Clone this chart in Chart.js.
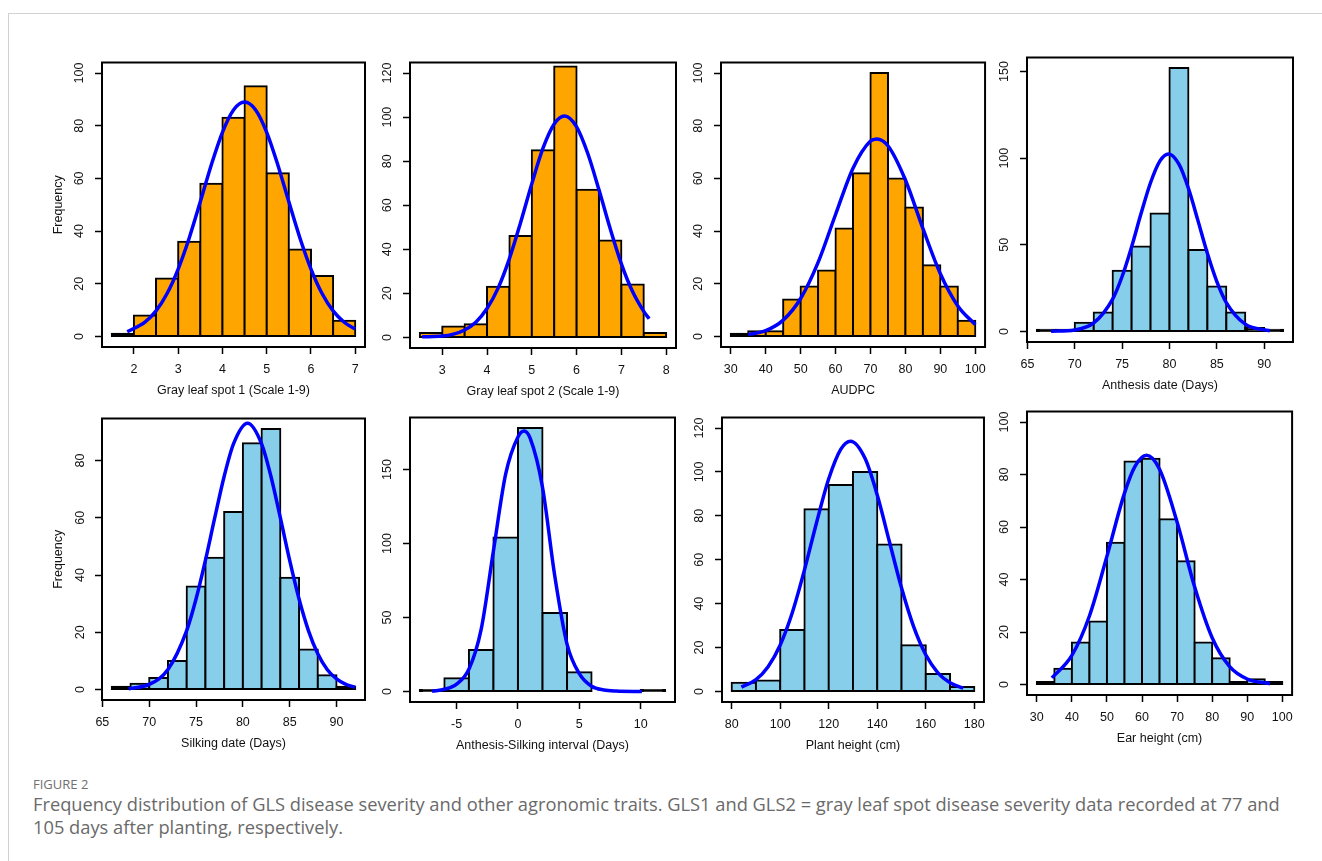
<!DOCTYPE html>
<html>
<head>
<meta charset="utf-8">
<script src="https://cdn.jsdelivr.net/npm/chart.js@4.4.1/dist/chart.umd.min.js"></script>
<style>
  html, body { margin: 0; padding: 0; background: #fff; overflow: hidden; }
  body { width: 1322px; height: 861px; position: relative; }
  .card { position: absolute; left: 8px; top: 13px; width: 1400px; height: 900px; border: 1px solid #d2d2d2; }
  canvas { position: absolute; }
  .fig-label { position: absolute; left: 33px; top: 775px; font-family: "Open Sans", sans-serif; font-size: 13px; color: #707070; }
  .caption { position: absolute; left: 33px; top: 792px; font-family: "Open Sans", sans-serif; font-size: 18.3px; line-height: 23px; color: #6a6a6a; white-space: nowrap; }
</style>
</head>
<body>
<div class="card"></div>
<div class="fig-label">FIGURE 2</div>
<div class="caption">Frequency distribution of GLS disease severity and other agronomic traits. GLS1 and GLS2 = gray leaf spot disease severity data recorded at 77 and<br>105 days after planting, respectively.</div>
<script>
// ---- data ----
// Gray leaf spot 1
const gls1Mids = [1.75, 2.25, 2.75, 3.25, 3.75, 4.25, 4.75, 5.25, 5.75, 6.25, 6.75];
const gls1Counts = [1, 8, 22, 36, 58, 83, 95, 62, 33, 23, 6];
const gls1CurveX = [1.85, 2.25, 2.5, 2.75, 3, 3.25, 3.5, 3.75, 4, 4.25, 4.5, 4.75, 5, 5.25, 5.5, 5.75, 6, 6.25, 6.5, 6.75, 7];
const gls1CurveY = [1.8, 5.4, 9.7, 16.3, 25.6, 37.4, 51.1, 65.2, 77.5, 86, 89, 86, 77.5, 65.2, 51.1, 37.4, 25.6, 16.3, 9.7, 5.4, 2.8];
const gls1XTicks = [2, 3, 4, 5, 6, 7];
const gls1YTicks = [0, 20, 40, 60, 80, 100];

// Gray leaf spot 2
const gls2Mids = [2.75, 3.25, 3.75, 4.25, 4.75, 5.25, 5.75, 6.25, 6.75, 7.25, 7.75];
const gls2Counts = [2, 5, 6, 23, 46, 85, 123, 67, 44, 24, 2];
const gls2CurveX = [2.55, 3, 3.25, 3.5, 3.75, 4, 4.25, 4.5, 4.75, 5, 5.25, 5.5, 5.73, 6, 6.25, 6.5, 6.75, 7, 7.25, 7.5, 7.62];
const gls2CurveY = [0.3, 0.6, 1.5, 3.4, 6.9, 13.1, 22.5, 35.8, 52.2, 69.8, 85.9, 96.9, 100.5, 95.6, 83.5, 67, 49.4, 33.4, 20.8, 11.8, 8.5];
const gls2XTicks = [3, 4, 5, 6, 7, 8];
const gls2YTicks = [0, 20, 40, 60, 80, 100, 120];

// AUDPC
const audpcMids = [32.5, 37.5, 42.5, 47.5, 52.5, 57.5, 62.5, 67.5, 72.5, 77.5, 82.5, 87.5, 92.5, 97.5];
const audpcCounts = [1, 2, 2, 14, 19, 25, 41, 62, 100, 60, 49, 27, 19, 6];
const audpcCurveX = [35, 40, 45, 50, 55, 60, 65, 70, 71.8, 75, 80, 85, 90, 95, 100];
const audpcCurveY = [0.7, 2.2, 6.2, 14.4, 28.1, 46.3, 63.9, 74.2, 75, 72.4, 59.4, 41, 23.8, 11.6, 4.5];
const audpcXTicks = [30, 40, 50, 60, 70, 80, 90, 100];
const audpcYTicks = [0, 20, 40, 60, 80, 100];

// Anthesis date
const anthMids = [67, 69, 71, 73, 75, 77, 79, 81, 83, 85, 87, 89, 91];
const anthCounts = [1, 1, 5, 11, 35, 49, 68, 152, 47, 26, 11, 2, 1];
const anthCurveX = [67.5, 70, 72, 74, 75, 76, 77, 78, 79, 79.9, 81, 82, 83, 84, 85, 86, 88, 90.6];
const anthCurveY = [0.1, 0.9, 4.9, 18.7, 31.7, 48.8, 68, 85.8, 98.4, 102.4, 96.5, 82.6, 64.1, 45.1, 28.8, 16.7, 4.2, 0.4];
const anthXTicks = [65, 70, 75, 80, 85, 90];
const anthYTicks = [0, 50, 100, 150];

// Silking date
const silkMids = [67, 69, 71, 73, 75, 77, 79, 81, 83, 85, 87, 89, 91];
const silkCounts = [1, 2, 4, 10, 36, 46, 62, 86, 91, 39, 14, 5, 1];
const silkCurveX = [67.8, 70, 72, 74, 75, 76, 77, 78, 79, 80.5, 82, 83, 84, 85, 86, 87, 88, 89, 90, 91, 92];
const silkCurveY = [0.3, 1.8, 7, 20.6, 31.6, 45.1, 60, 74.4, 85.8, 93, 85.8, 74.4, 60, 45.1, 31.6, 20.6, 12.5, 7, 3.7, 1.8, 0.8];
const silkXTicks = [65, 70, 75, 80, 85, 90];
const silkYTicks = [0, 20, 40, 60, 80];

// Anthesis-silking interval
const asiMids = [-7, -5, -3, -1, 1, 3, 5, 7, 9, 11];
const asiCounts = [1, 9, 28, 104, 178, 53, 13, 0, 0, 1];
const asiCurveX = [-7, -6, -5, -4, -3, -2, -1, 0, 0.5, 1, 2, 3, 4, 5, 6, 7, 8, 10.1];
const asiCurveY = [0.2, 1.5, 5, 15, 42, 95, 147, 172, 176, 171, 138, 78, 32, 12, 3.5, 1, 0.3, 0];
const asiXTicks = [-5, 0, 5, 10];
const asiYTicks = [0, 50, 100, 150];

// Plant height
const phMids = [85, 95, 105, 115, 125, 135, 145, 155, 165, 175];
const phCounts = [4, 5, 28, 83, 94, 100, 67, 21, 8, 2];
const phCurveX = [84, 90, 95, 100, 105, 110, 115, 120, 125, 129, 135, 140, 145, 150, 155, 160, 165, 170, 175.5];
const phCurveY = [2, 5.4, 11.3, 21.2, 36, 55.4, 77, 96.9, 110.4, 114, 106.1, 89.5, 68.3, 47.2, 29.5, 16.7, 8.5, 4, 1.5];
const phXTicks = [80, 100, 120, 140, 160, 180];
const phYTicks = [0, 20, 40, 60, 80, 100, 120];

// Ear height
const ehMids = [32.5, 37.5, 42.5, 47.5, 52.5, 57.5, 62.5, 67.5, 72.5, 77.5, 82.5, 87.5, 92.5, 97.5];
const ehCounts = [1, 6, 16, 24, 54, 85, 86, 63, 47, 16, 10, 1, 2, 1];
const ehCurveX = [34.3, 40, 45, 50, 55, 58, 61.3, 65, 70, 75, 80, 85, 90, 96.5];
const ehCurveY = [2.5, 11.1, 26.1, 48.9, 72.9, 83.1, 87.3, 82, 61.9, 37.2, 17.8, 6.8, 2.1, 0.3];
const ehXTicks = [30, 40, 50, 60, 70, 80, 90, 100];
const ehYTicks = [0, 20, 40, 60, 80, 100];

// ---- layout ----
const ORANGE = '#FFA500';
const SKY = '#87CEEB';
const Y_AXIS_W = 55;   // room left of the plot box
const X_AXIS_H = 56;   // room below the plot box
const PAD_T = 5, PAD_R = 8;

// box = [left, top, width, height] of the framed plot region on the page
const panels = [
  { box: [102, 55, 263, 292], xr: [1.28, 7.22], yr: [-4, 104], bin: 0.5, fill: ORANGE,
    mids: gls1Mids, counts: gls1Counts, cx: gls1CurveX, cy: gls1CurveY, xt: gls1XTicks, yt: gls1YTicks,
    xTitle: 'Gray leaf spot 1 (Scale 1-9)', yTitle: 'Frequency', yPad: 5 },
  { box: [410, 55, 266, 293], xr: [2.28, 8.22], yr: [-4.8, 124.8], bin: 0.5, fill: ORANGE,
    mids: gls2Mids, counts: gls2Counts, cx: gls2CurveX, cy: gls2CurveY, xt: gls2XTicks, yt: gls2YTicks,
    xTitle: 'Gray leaf spot 2 (Scale 1-9)', yTitle: '', yPad: 5 },
  { box: [721, 55, 265, 292], xr: [27.2, 102.8], yr: [-4, 104], bin: 5, fill: ORANGE,
    mids: audpcMids, counts: audpcCounts, cx: audpcCurveX, cy: audpcCurveY, xt: audpcXTicks, yt: audpcYTicks,
    xTitle: 'AUDPC', yTitle: '', yPad: 5 },
  { box: [1027, 50, 266, 292], xr: [64.96, 93.04], yr: [-6.08, 158.08], bin: 2, fill: SKY,
    mids: anthMids, counts: anthCounts, cx: anthCurveX, cy: anthCurveY, xt: anthXTicks, yt: anthYTicks,
    xTitle: 'Anthesis date (Days)', yTitle: '', yPad: 5 },
  { box: [102, 408, 263, 292], xr: [64.96, 93.04], yr: [-3.64, 94.64], bin: 2, fill: SKY,
    mids: silkMids, counts: silkCounts, cx: silkCurveX, cy: silkCurveY, xt: silkXTicks, yt: silkYTicks,
    xTitle: 'Silking date (Days)', yTitle: 'Frequency', yPad: 8 },
  { box: [410, 410, 265, 292], xr: [-8.8, 12.8], yr: [-7.12, 185.12], bin: 2, fill: SKY,
    mids: asiMids, counts: asiCounts, cx: asiCurveX, cy: asiCurveY, xt: asiXTicks, yt: asiYTicks,
    xTitle: 'Anthesis-Silking interval (Days)', yTitle: '', yPad: 5 },
  { box: [722, 410, 263, 292], xr: [76, 184], yr: [-4.8, 124.8], bin: 10, fill: SKY,
    mids: phMids, counts: phCounts, cx: phCurveX, cy: phCurveY, xt: phXTicks, yt: phYTicks,
    xTitle: 'Plant height (cm)', yTitle: '', yPad: 5 },
  { box: [1027, 404, 266, 291], xr: [27.2, 102.8], yr: [-4, 104], bin: 5, fill: SKY,
    mids: ehMids, counts: ehCounts, cx: ehCurveX, cy: ehCurveY, xt: ehXTicks, yt: ehYTicks,
    xTitle: 'Ear height (cm)', yTitle: '', yPad: 5 }
];

Chart.defaults.font.family = '"Liberation Sans", Arial, sans-serif';
Chart.defaults.font.size = 12.5;
Chart.defaults.color = '#111';

// R-style box around the plot region
const boxFrame = {
  id: 'boxFrame',
  afterDatasetsDraw(chart) {
    const { ctx, chartArea: a } = chart;
    ctx.save();
    ctx.strokeStyle = '#000';
    ctx.lineWidth = 2;
    ctx.strokeRect(a.left, a.top, a.right - a.left, a.bottom - a.top);
    ctx.restore();
  }
};

const tickGrid = { display: true, drawOnChartArea: false, drawTicks: true, tickLength: 7, tickColor: '#000', tickWidth: 1.5, offset: false };

panels.forEach(p => {
  const [L, T, W, H] = p.box;
  const cv = document.createElement('canvas');
  cv.width = W + Y_AXIS_W + PAD_R;
  cv.height = H + PAD_T + X_AXIS_H;
  cv.style.left = (L - Y_AXIS_W) + 'px';
  cv.style.top = (T - PAD_T) + 'px';
  document.body.appendChild(cv);

  const binPx = p.bin * W / (p.xr[1] - p.xr[0]);

  // very short bars come out as solid black outlines, like R's stroked rects
  const barFill = ctx => {
    const y = ctx.chart.scales.y;
    const v = ctx.raw ? ctx.raw.y : 0;
    return (y.getPixelForValue(0) - y.getPixelForValue(v)) < 3.5 ? '#000' : p.fill;
  };

  new Chart(cv, {
    type: 'bar',
    data: {
      datasets: [
        {
          type: 'line',
          data: p.cx.map((x, i) => ({ x, y: p.cy[i] })),
          borderColor: '#0000FF',
          borderWidth: 3.5,
          pointRadius: 0,
          fill: false,
          cubicInterpolationMode: 'monotone',
          order: 0
        },
        {
          type: 'bar',
          data: p.mids.map((x, i) => ({ x, y: p.counts[i] })),
          backgroundColor: barFill,
          borderColor: '#000',
          borderWidth: 2,
          borderSkipped: false,
          inflateAmount: 1,     // shifts the 2px border outward by 1px, centring it on the bin edge
          barThickness: binPx,
          order: 1
        }
      ]
    },
    options: {
      responsive: false,
      animation: false,
      events: [],
      layout: { padding: { top: PAD_T, right: PAD_R, left: 0, bottom: 0 } },
      plugins: { legend: { display: false }, tooltip: { enabled: false } },
      scales: {
        x: {
          type: 'linear',
          min: p.xr[0], max: p.xr[1],
          offset: false,
          afterBuildTicks: s => { s.ticks = p.xt.map(v => ({ value: v })); },
          afterFit: s => { s.height = X_AXIS_H; },
          grid: tickGrid,
          border: { display: false },
          ticks: { padding: 8, maxRotation: 0, autoSkip: false },
          title: { display: true, text: p.xTitle, padding: { top: 0, bottom: 5 } }
        },
        y: {
          type: 'linear',
          min: p.yr[0], max: p.yr[1],
          afterBuildTicks: s => { s.ticks = p.yt.map(v => ({ value: v })); },
          afterFit: s => { s.width = Y_AXIS_W; },
          grid: tickGrid,
          border: { display: false },
          ticks: { minRotation: 90, maxRotation: 90, crossAlign: 'center', padding: p.yPad, autoSkip: false },
          title: { display: !!p.yTitle, text: p.yTitle, padding: { top: 4, bottom: 0 } }
        }
      }
    },
    plugins: [boxFrame]
  });
});
</script>
</body>
</html>
